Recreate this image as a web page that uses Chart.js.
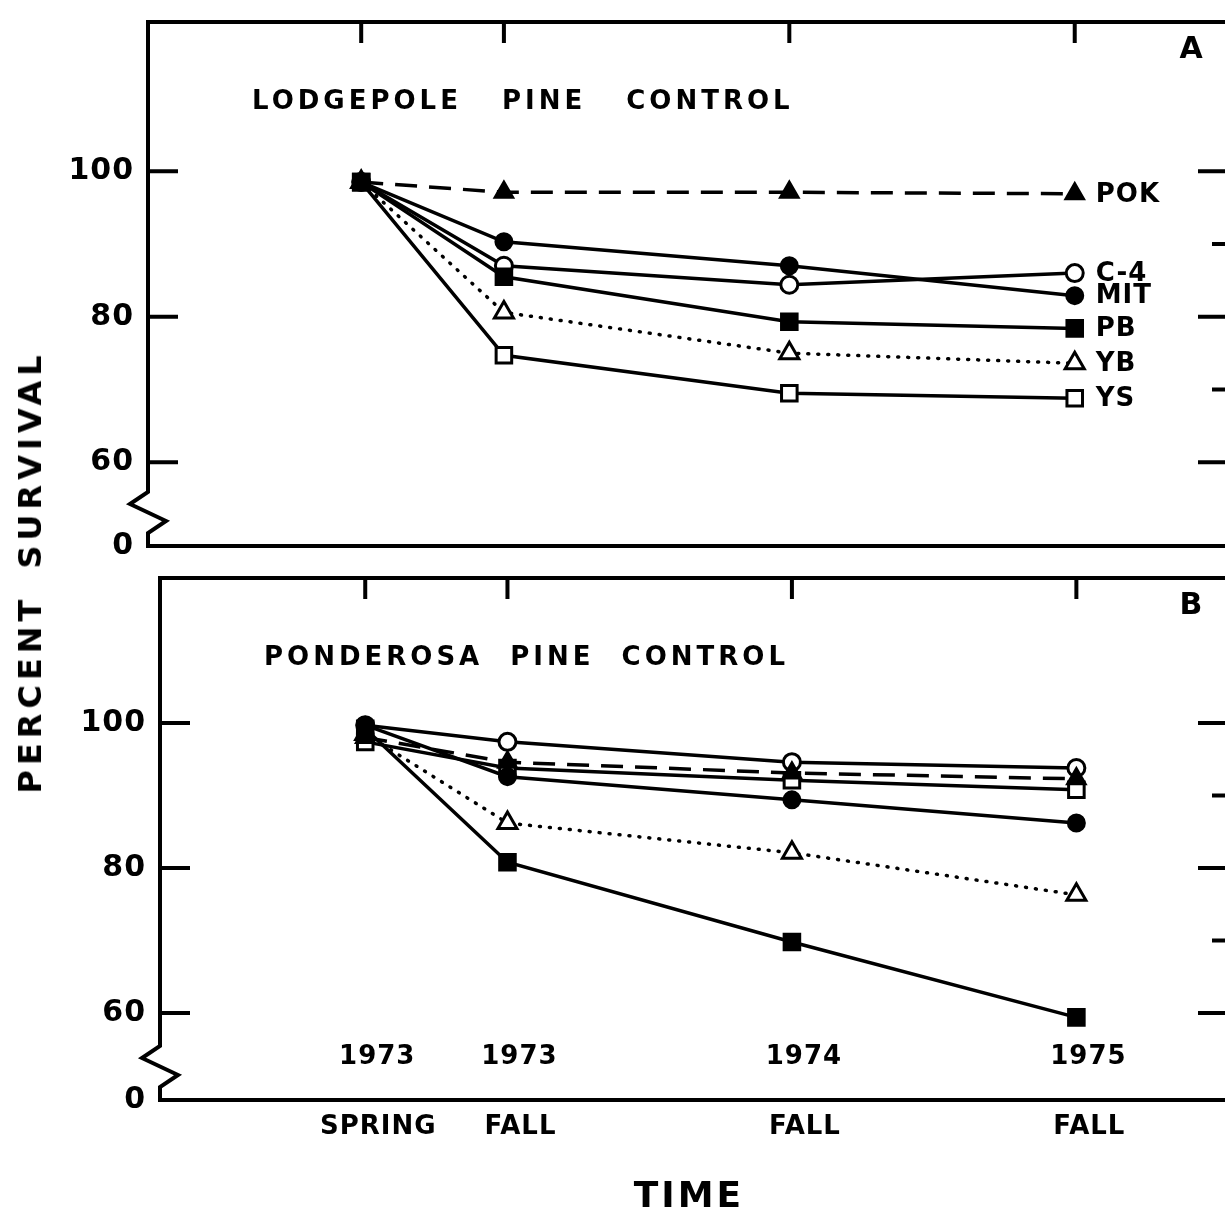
<!DOCTYPE html>
<html>
<head>
<meta charset="utf-8">
<script src="https://cdn.jsdelivr.net/npm/chart.js@4.4.0/dist/chart.umd.min.js"></script>
<style>
  body { margin: 0; background: #fff; width: 1225px; height: 1211px; overflow: hidden; position: relative; font-family: 'DejaVu Sans', sans-serif; }
  .panel { position: absolute; left: 0; }
  #ytitle { position: absolute; left: 30px; top: 572px; transform: translate(-50%, -50%) rotate(-90deg);
            white-space: nowrap; font: bold 32px 'DejaVu Sans'; letter-spacing: 5px; word-spacing: 10px; color: #000; }
  #xtitle { position: absolute; left: 689px; top: 1194px; transform: translate(-50%, -50%);
            white-space: nowrap; font: bold 36px 'DejaVu Sans'; letter-spacing: 3px; color: #000; }
</style>
</head>
<body>
<canvas id="lodgepole" class="panel" style="top:0" width="1240" height="560"></canvas>
<canvas id="ponderosa" class="panel" style="top:560px" width="1240" height="651"></canvas>
<div id="ytitle">PERCENT SURVIVAL</div>
<div id="xtitle">TIME</div>
<script>
// years after spring 1973
const timePoints = [0, 0.5, 1.5, 2.5];
const seasonLabels = ['SPRING', 'FALL', 'FALL', 'FALL'];
const yearLabels = ['1973', '1973', '1974', '1975'];
const seriesNames = ['POK', 'C-4', 'MIT', 'PB', 'YB', 'YS'];
const leftTicks = [60, 80, 100];
const rightTicks = [60, 70, 80, 90, 100];

// A - lodgepole pine control
const lodgePOK = [98.5, 97.1, 97.1, 96.9];
const lodgeC4  = [98.5, 87.0, 84.4, 86.0];
const lodgeMIT = [98.5, 90.3, 87.0, 82.9];
const lodgePB  = [98.5, 85.5, 79.3, 78.4];
const lodgeYB  = [98.5, 80.6, 75.0, 73.6];
const lodgeYS  = [98.5, 74.7, 69.5, 68.8];

// B - ponderosa pine control
const pondPOK = [98.0, 94.6, 93.1, 92.3];
const pondC4  = [99.7, 97.4, 94.6, 93.8];
const pondMIT = [99.7, 92.6, 89.4, 86.2];
const pondPB  = [99.2, 80.8, 69.8, 59.4];
const pondYB  = [98.5, 86.2, 82.1, 76.3];
const pondYS  = [97.4, 93.8, 92.1, 90.8];

const markers = [
    { style: 'triangle', filled: true,  dash: [22, 12], r: 10 },
    { style: 'circle',   filled: false, dash: [],       r: 8.5 },
    { style: 'circle',   filled: true,  dash: [],       r: 8 },
    { style: 'rect',     filled: true,  dash: [],       r: 11 },
    { style: 'triangle', filled: false, dash: [1, 9],   r: 11 },
    { style: 'rect',     filled: false, dash: [],       r: 11 }
];

const font = "'DejaVu Sans'";

const makeDatasets = (seriesValues) => seriesValues.map((values, i) => {
    const m = markers[i];
    return {
        label: seriesNames[i],
        data: timePoints.map((t, k) => ({ x: t, y: values[k] })),
        borderColor: '#000',
        borderWidth: 3.5,
        borderDash: m.dash,
        borderCapStyle: m.dash.length && m.dash[0] < 3 ? 'round' : 'butt',
        pointStyle: m.style,
        pointRadius: m.r,
        pointBorderWidth: 3,
        pointBackgroundColor: m.filled ? '#000' : '#fff',
        pointBorderColor: '#000',
        order: m.filled ? 1 : 2
    };
});

const panelFrame = {
    id: 'panelFrame',
    beforeDraw(chart) {
        chart.ctx.letterSpacing = '1px';
    },
    beforeDatasetsDraw(chart) {
        chart.ctx.letterSpacing = '0px';
    },
    afterDraw(chart, args, opts) {
        const { ctx, chartArea: a, scales: { x, y } } = chart;
        const W = chart.width;
        ctx.save();
        ctx.strokeStyle = '#000';
        ctx.fillStyle = '#000';
        ctx.lineWidth = 4;
        ctx.setLineDash([]);

        // frame with broken left axis
        const brk = [[0, -54], [-18, -42], [18, -25], [0, -13], [0, 0]];
        ctx.beginPath();
        ctx.moveTo(W, a.top);
        ctx.lineTo(a.left, a.top);
        brk.forEach(([dx, dy]) => ctx.lineTo(a.left + dx, a.bottom + dy));
        ctx.lineTo(W, a.bottom);
        ctx.stroke();

        ctx.beginPath();
        timePoints.forEach(t => {
            const px = x.getPixelForValue(t);
            ctx.moveTo(px, a.top);
            ctx.lineTo(px, a.top + 21);
        });
        leftTicks.forEach(v => {
            const py = y.getPixelForValue(v);
            ctx.moveTo(a.left, py);
            ctx.lineTo(a.left + 30, py);
        });
        rightTicks.forEach(v => {
            const py = y.getPixelForValue(v);
            ctx.moveTo(a.right, py);
            ctx.lineTo(a.right - (v % 20 === 0 ? 28 : 14), py);
        });
        ctx.stroke();

        ctx.textBaseline = 'middle';
        ctx.letterSpacing = '4px';
        ctx.wordSpacing = opts.wordGap + 'px';
        ctx.font = `bold 26px ${font}`;
        ctx.textAlign = 'left';
        ctx.fillText(opts.title, a.left + 104, a.top + 80);

        ctx.wordSpacing = '0px';
        ctx.letterSpacing = '0px';
        ctx.font = `bold 30px ${font}`;
        ctx.textAlign = 'center';
        ctx.fillText(opts.letter, 1191, a.top + 28);

        ctx.font = `bold 26px ${font}`;
        ctx.letterSpacing = '1px';
        if (opts.seriesLabels) {
            ctx.textAlign = 'left';
            chart.data.datasets.forEach((ds, i) => {
                const pts = chart.getDatasetMeta(i).data;
                const last = pts[pts.length - 1];
                ctx.fillText(ds.label, last.x + 21, last.y + 1);
            });
        }
        if (opts.years) {
            ctx.textAlign = 'center';
            timePoints.forEach((t, i) => {
                ctx.fillText(yearLabels[i], x.getPixelForValue(t) + 12, a.bottom - 43);
            });
        }
        ctx.restore();
    }
};

const buildPanel = (id, seriesValues, cfg) => {
    const yMin = cfg.yMin;
    return new Chart(document.getElementById(id), {
        type: 'line',
        data: { datasets: makeDatasets(seriesValues) },
        plugins: [panelFrame],
        options: {
            responsive: false,
            animation: false,
            layout: { padding: { top: cfg.top, right: 10, bottom: cfg.bottom, left: 0 } },
            plugins: {
                legend: { display: false },
                tooltip: { enabled: false },
                panelFrame: {
                    title: cfg.title, letter: cfg.letter, wordGap: cfg.wordGap,
                    seriesLabels: cfg.seriesLabels, years: cfg.years
                }
            },
            scales: {
                x: {
                    type: 'linear',
                    min: cfg.xMin,
                    max: cfg.xMax,
                    display: cfg.showSeasons,
                    grid: { display: false, drawTicks: false },
                    border: { display: false },
                    afterBuildTicks: s => { s.ticks = timePoints.map(v => ({ value: v })); },
                    afterFit: s => {
                        s.height = cfg.xHeight;
                        s.paddingLeft = 0; s.paddingRight = 0;
                    },
                    ticks: {
                        autoSkip: false,
                        maxRotation: 0,
                        padding: 12,
                        labelOffset: 13,
                        color: '#000',
                        font: { family: 'DejaVu Sans', size: 26, weight: 'bold' },
                        callback: v => seasonLabels[timePoints.indexOf(v)]
                    }
                },
                y: {
                    type: 'linear',
                    min: yMin,
                    max: yMin + 72,
                    grid: { display: false, drawTicks: false },
                    border: { display: false },
                    afterBuildTicks: s => { s.ticks = [yMin].concat(leftTicks).map(v => ({ value: v })); },
                    afterFit: s => {
                        s.width = cfg.left;
                        s.paddingTop = 0; s.paddingBottom = 0;
                    },
                    ticks: {
                        padding: 14,
                        color: '#000',
                        font: { family: 'DejaVu Sans', size: 30, weight: 'bold' },
                        callback: v => v === yMin ? '0' : v
                    }
                }
            }
        }
    });
};

buildPanel('lodgepole', [lodgePOK, lodgeC4, lodgeMIT, lodgePB, lodgeYB, lodgeYS], {
    title: 'LODGEPOLE PINE CONTROL', letter: 'A', wordGap: 27, seriesLabels: true, years: false,
    top: 22, bottom: 12, left: 148, xMin: -0.747, xMax: 3.03, yMin: 48.5,
    showSeasons: false, xHeight: 0
});

buildPanel('ponderosa', [pondPOK, pondC4, pondMIT, pondPB, pondYB, pondYS], {
    title: 'PONDEROSA PINE CONTROL', letter: 'B', wordGap: 14, seriesLabels: false, years: true,
    top: 18, bottom: 0, left: 160, xMin: -0.7215, xMax: 3.026, yMin: 48,
    showSeasons: true, xHeight: 111
});
</script>
</body>
</html>
